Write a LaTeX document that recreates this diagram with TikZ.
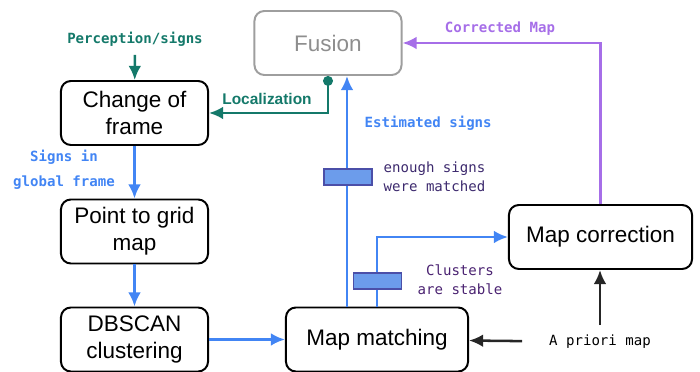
\documentclass[tikz,border=0pt]{standalone}
\usepackage{fontspec}
\setmainfont{Liberation Sans}
\setmonofont{DejaVu Sans Mono}
\usetikzlibrary{arrows.meta}

\definecolor{flowblue}{HTML}{4285F4}
\definecolor{locgreen}{HTML}{14796A}
\definecolor{mappurple}{HTML}{A66EE8}
\definecolor{gatefill}{HTML}{6C9CEB}
\definecolor{gateline}{HTML}{4B4FA8}
\definecolor{notecol}{HTML}{3D2A6E}
\definecolor{fusgray}{HTML}{9E9E9E}

\tikzset{
  blk/.style={draw, line width=1.4pt, rounded corners=7pt, align=center,
    minimum width=3.675cm, minimum height=1.6cm, inner sep=2pt,
    font=\fontsize{16}{19}\selectfont},
  fusbox/.style={blk, draw=fusgray, text=fusgray!90!black},
  gate/.style={draw=gateline, fill=gatefill, line width=0.8pt,
    minimum width=1.2cm, minimum height=0.4cm, inner sep=0pt},
  lbl/.style={font=\ttfamily\fontsize{10}{13.5}\selectfont, align=center, inner sep=1pt},
  blbl/.style={lbl, font=\ttfamily\bfseries\fontsize{10}{18}\selectfont},
  arr/.style={line width=1.8pt, -{Latex[length=10pt,width=9pt]}},
  barr/.style={arr, flowblue},
  garr/.style={arr, locgreen},
  parr/.style={arr, mappurple},
  karr/.style={arr, black!85}
}

\begin{document}
\begin{tikzpicture}[x=0.025cm, y=-0.025cm]
  \useasboundingbox (0,0) rectangle (700,372);

  % processing blocks
  \node[fusbox] (fus) at (328,43) {Fusion};
  \node[blk] (cof) at (134.5,113) {Change of\\frame};
  \node[blk] (ptg) at (134.5,231.5) {Point to grid\\map};
  \node[blk] (dbs) at (134.5,339.5) {DBSCAN\\clustering};
  \node[blk, minimum width=4.55cm] (mm) at (377,339.5) {Map matching};
  \node[blk, minimum width=4.575cm] (mc) at (600.5,237) {Map correction};

  % inputs
  \node[blbl, text=locgreen] (perc) at (135,39) {Perception/signs};
  \node[lbl, font=\ttfamily\fontsize{10}{13}\selectfont] (apm) at (600,342) {A priori map};

  % left chain
  \draw[garr, shorten <=5pt] (perc) -- (cof);
  \draw[barr] (cof) -- (ptg);
  \node[blbl, text=flowblue] (sgf) at (64,170) {Signs in\\global frame};
  \draw[barr] (ptg) -- (dbs);
  \draw[barr] (dbs) -- (mm);

  % localization feedback
  \draw[garr, {Circle[length=7pt]}-{Latex[length=10pt,width=9pt]}]
    (fus.south) -- (fus.south |- cof.east) -- (cof.east);
  \node[font=\bfseries\fontsize{11}{12}\selectfont, text=locgreen] (loc) at (267,99) {Localization};

  % matched signs up to fusion
  \draw[barr] ([xshift=-0.75cm]mm.north) -- ([xshift=-0.75cm]mm.north |- fus.south);
  \node[blbl, text=flowblue, anchor=west] (est) at (363,123) {Estimated signs};
  \node[gate] (g1) at (348,177) {};
  \node[lbl, text=notecol, align=left, anchor=west] (enough) at (382,177) {enough signs\\were matched};

  % stable clusters to correction
  \draw[barr] (mm.north) -- (mm.north |- mc.west) -- (mc.west);
  \node[gate] (g2) at (377.5,281) {};
  \node[lbl, text=notecol!80!violet] (stable) at (460,280) {Clusters\\are stable};

  % a priori map
  \draw[karr, shorten <=18pt] (apm) -- (mm);
  \draw[karr, shorten <=6pt] (apm.north) -- (apm.north |- mc.south);

  % corrected map back to fusion
  \draw[parr] (mc.north) -- (mc.north |- fus.east) -- (fus.east);
  \node[blbl, text=mappurple] (corr) at (500,29) {Corrected Map};
\end{tikzpicture}
\end{document}
